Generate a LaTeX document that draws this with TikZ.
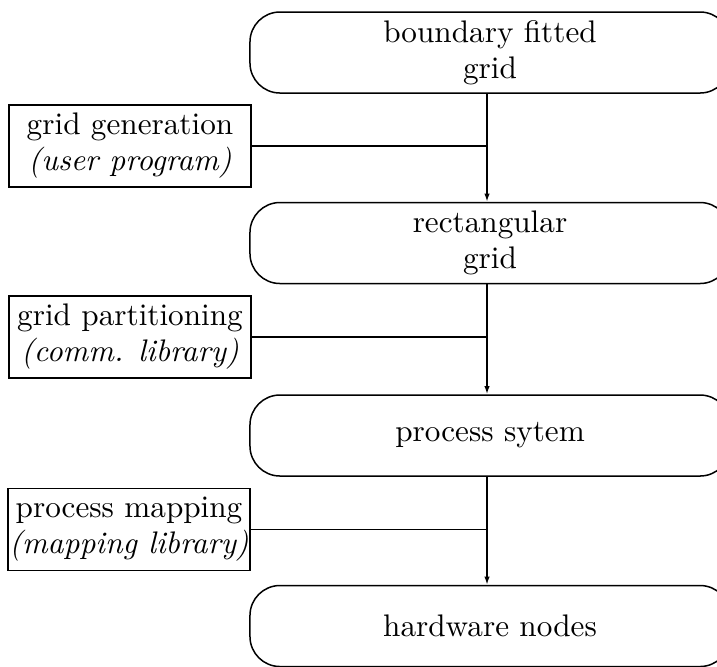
\documentclass[tikz,border=0pt]{standalone}
\usetikzlibrary{arrows.meta}
\begin{document}
\begin{tikzpicture}[x=0.3333pt,y=-0.3333pt,
  font=\fontsize{10.4}{12}\selectfont,
  stage/.style={draw,rounded corners=10pt,minimum width=160pt,minimum height=27pt,
    align=center,inner sep=0pt,line width=0.5pt},
  tool/.style={draw,minimum width=80.7pt,minimum height=27.3pt,
    align=center,inner sep=0pt,line width=0.5pt},
  flow/.style={-{Latex[length=2.7pt,width=1.8pt]},line width=0.5pt},
  feed/.style={line width=0.5pt}]
\useasboundingbox (0,0) rectangle (717,666);
% vertical axis carrying the data flow
\coordinate (spine) at (487,0);

% data stages
\node[stage] (bfg)  at (490,52.5)  {boundary fitted\\grid};
\node[stage] (rect) at (490,243)   {rectangular\\grid};
\node[stage] (proc) at (490,435.5) {process sytem};
\node[stage] (hw)   at (490,626)   {hardware nodes};

% tools acting on each transition
\node[tool] (gen)  at (130,146)   {grid generation\\\textit{(user program)}};
\node[tool] (part) at (130,337)   {grid partitioning\\\textit{(comm. library)}};
\node[tool] (map)  at (129,529.5) {process mapping\\\textit{(mapping library)}};

% flow between stages
\draw[flow] (bfg.south -| spine)  -- (rect.north -| spine);
\draw[flow] (rect.south -| spine) -- (proc.north -| spine);
\draw[flow] (proc.south -| spine) -- (hw.north -| spine);

% tools feeding into the flow
\draw[feed] (gen.east)  -- (gen.east -| spine);
\draw[feed] (part.east) -- (part.east -| spine);
\draw[feed] (map.east)  -- (map.east -| spine);
\end{tikzpicture}
\end{document}
